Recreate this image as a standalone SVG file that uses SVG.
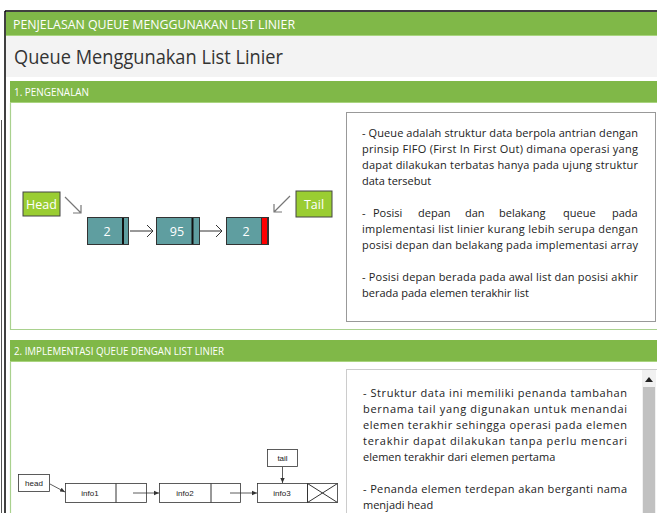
<svg xmlns="http://www.w3.org/2000/svg" width="657" height="513" viewBox="0 0 657 513">
<defs>
<style>
.bar{fill:#80b848}
.hdr{font-family:"Open Sans","Noto Sans",sans-serif;fill:#fff}
.body{font-family:"Open Sans","Noto Sans",sans-serif;font-size:11px;fill:#222}
.node{fill:#5f9ea0;stroke:#333;stroke-width:1}
.lbl{fill:#9acd32;stroke:#444;stroke-width:1}
.wt{font-family:"Open Sans","Noto Sans",sans-serif;font-size:12.5px;fill:#fff;text-anchor:middle}
.sm{font-family:"Liberation Sans",Arial,sans-serif;font-size:8px;fill:#222;text-anchor:middle}
.box2{fill:#fff;stroke:#333;stroke-width:0.8}
.ln{stroke:#333;stroke-width:1;fill:none}
.gl{stroke:#777;stroke-width:1.2;fill:none}
</style>
<marker id="ah" markerWidth="6" markerHeight="6" refX="5" refY="3" orient="auto" markerUnits="userSpaceOnUse">
<path d="M0,0.8 L5,3 L0,5.2 z" fill="#333"/>
</marker>
</defs>
<rect x="0" y="0" width="657" height="513" fill="#fff"/>
<!-- outer frame -->
<line x1="5" y1="11" x2="657" y2="11" stroke="#000" stroke-width="1.5"/>
<line x1="5" y1="11" x2="5" y2="513" stroke="#000" stroke-width="1.5"/>
<line x1="1.5" y1="120" x2="1.5" y2="513" stroke="#555" stroke-width="1"/>
<!-- title bar -->
<rect class="bar" x="6" y="12" width="651" height="24"/>
<line x1="6" y1="35.5" x2="657" y2="35.5" stroke="#a9d47f"/>
<text class="hdr" x="13" y="28.5" font-size="12" textLength="282" lengthAdjust="spacingAndGlyphs">PENJELASAN QUEUE MENGGUNAKAN LIST LINIER</text>
<rect x="6" y="36" width="651" height="41" fill="#f3f3f3"/>
<text x="14" y="64" font-family="Open Sans, Noto Sans, sans-serif" font-size="20" fill="#333" textLength="269" lengthAdjust="spacingAndGlyphs">Queue Menggunakan List Linier</text>
<!-- section 1 -->
<g id="section1">
<rect class="bar" x="10" y="81" width="647" height="22"/>
<line x1="10" y1="102.5" x2="657" y2="102.5" stroke="#a9d47f"/>
<text class="hdr" x="14" y="96" font-size="10" textLength="75" lengthAdjust="spacingAndGlyphs">1. PENGENALAN</text>
<path d="M10.5,103 V329.5 H657" fill="none" stroke="#a9d18e" stroke-width="1.2"/>
</g>
<g id="head1">
<rect class="lbl" x="23" y="192" width="37" height="24"/>
<text class="wt" x="41.5" y="208.5">Head</text>
</g>
<g id="tail1">
<rect class="lbl" x="296" y="191" width="36" height="26"/>
<text class="wt" x="314" y="208.5">Tail</text>
</g>
<g id="n1">
<rect class="node" x="87.5" y="217.5" width="41" height="27"/>
<rect x="122" y="218" width="2" height="26" fill="#111"/>
<text class="wt" x="107" y="236">2</text>
</g>
<g id="n2">
<rect class="node" x="156.5" y="217.5" width="43" height="27"/>
<rect x="191.5" y="218" width="2" height="26" fill="#111"/>
<text class="wt" x="177" y="236">95</text>
</g>
<g id="n3">
<rect class="node" x="226.5" y="217.5" width="42" height="27"/>
<rect x="261.5" y="217.5" width="6" height="27" fill="#ff0000" stroke="#333" stroke-width="1"/>
<text class="wt" x="246" y="236">2</text>
</g>
<g id="connectors1">
<path class="gl" d="M65,197 L81,213 M73,213 H81 V205"/>
<path class="gl" d="M290,196 L274,212 M282,212 H274 V204"/>
<path class="ln" d="M130,231 H153 M147,225 L153,231 L147,237"/>
<path class="ln" d="M200,231 H222 M216,225 L222,231 L216,237"/>
</g>
<g id="text1">
<rect x="346.5" y="112.5" width="309" height="209" fill="#fff" stroke="#999"/>
<text class="body">
<tspan x="362" y="137" textLength="276" lengthAdjust="spacing">- Queue adalah struktur data berpola antrian dengan</tspan>
<tspan x="362" y="153" textLength="276" lengthAdjust="spacing">prinsip FIFO (First In First Out) dimana operasi yang</tspan>
<tspan x="362" y="169" textLength="276" lengthAdjust="spacing">dapat dilakukan terbatas hanya pada ujung struktur</tspan>
<tspan x="362" y="185">data tersebut</tspan>
<tspan x="362" y="217">-</tspan><tspan x="373" y="217">Posisi</tspan><tspan x="418" y="217">depan</tspan><tspan x="465" y="217">dan</tspan><tspan x="499" y="217">belakang</tspan><tspan x="563" y="217">queue</tspan><tspan x="612" y="217">pada</tspan>
<tspan x="362" y="233" textLength="276" lengthAdjust="spacing">implementasi list linier kurang lebih serupa dengan</tspan>
<tspan x="362" y="249" textLength="276" lengthAdjust="spacing">posisi depan dan belakang pada implementasi array</tspan>
<tspan x="362" y="281" textLength="276" lengthAdjust="spacing">- Posisi depan berada pada awal list dan posisi akhir</tspan>
<tspan x="362" y="297">berada pada elemen terakhir list</tspan>
</text>
</g>
<!-- section 2 -->
<g id="section2">
<rect class="bar" x="10" y="340" width="647" height="22"/>
<line x1="10" y1="361.5" x2="657" y2="361.5" stroke="#a9d47f"/>
<text class="hdr" x="14" y="355" font-size="10" textLength="210" lengthAdjust="spacingAndGlyphs">2. IMPLEMENTASI QUEUE DENGAN LIST LINIER</text>
<line x1="10.5" y1="362" x2="10.5" y2="513" stroke="#a9d18e" stroke-width="1.2"/>
</g>
<g id="head2">
<rect class="box2" x="18.5" y="474.5" width="31" height="17"/>
<text class="sm" x="34" y="486">head</text>
</g>
<g id="tail2">
<rect class="box2" x="267.5" y="449.5" width="30" height="17"/>
<text class="sm" x="282.5" y="461">tail</text>
</g>
<g id="info1">
<rect class="box2" x="65.5" y="483.5" width="81" height="19"/>
<line class="ln" x1="116" y1="483.5" x2="116" y2="502.5" stroke-width="0.8"/>
<text class="sm" x="90" y="496">info1</text>
</g>
<g id="info2">
<rect class="box2" x="159.5" y="483.5" width="81" height="19"/>
<line class="ln" x1="211" y1="483.5" x2="211" y2="502.5" stroke-width="0.8"/>
<text class="sm" x="185" y="496">info2</text>
</g>
<g id="info3">
<rect class="box2" x="257.5" y="483.5" width="80" height="19"/>
<path class="ln" d="M307.5,483.5 V502.5 M307.5,483.5 L337.5,502.5 M307.5,502.5 L337.5,483.5" stroke-width="0.8"/>
<text class="sm" x="282" y="496">info3</text>
</g>
<g id="connectors2" stroke="#333" stroke-width="0.8" fill="none">
<line x1="50" y1="484" x2="65" y2="492" marker-end="url(#ah)"/>
<line x1="133" y1="493" x2="159" y2="493" marker-end="url(#ah)"/>
<line x1="230" y1="493" x2="257" y2="493" marker-end="url(#ah)"/>
<line x1="282.5" y1="467" x2="282.5" y2="483" marker-end="url(#ah)"/>
</g>
<g id="text2">
<rect x="346.5" y="369.5" width="312" height="150" fill="#fff" stroke="#ccc"/>
<rect x="642" y="370" width="14" height="143" fill="#f1f1f1"/>
<path d="M645,382 L649,377 L653,382 z" fill="#222"/>
<rect x="643" y="387" width="12" height="126" fill="#c1c1c1"/>
<text class="body">
<tspan x="363" y="397" textLength="264" lengthAdjust="spacing">- Struktur data ini memiliki penanda tambahan</tspan>
<tspan x="363" y="413" textLength="264" lengthAdjust="spacing">bernama tail yang digunakan untuk menandai</tspan>
<tspan x="363" y="429" textLength="264" lengthAdjust="spacing">elemen terakhir sehingga operasi pada elemen</tspan>
<tspan x="363" y="445" textLength="264" lengthAdjust="spacing">terakhir dapat dilakukan tanpa perlu mencari</tspan>
<tspan x="363" y="461">elemen terakhir dari elemen pertama</tspan>
<tspan x="363" y="493" textLength="264" lengthAdjust="spacing">- Penanda elemen terdepan akan berganti nama</tspan>
<tspan x="363" y="509">menjadi head</tspan>
</text>
</g>
</svg>
